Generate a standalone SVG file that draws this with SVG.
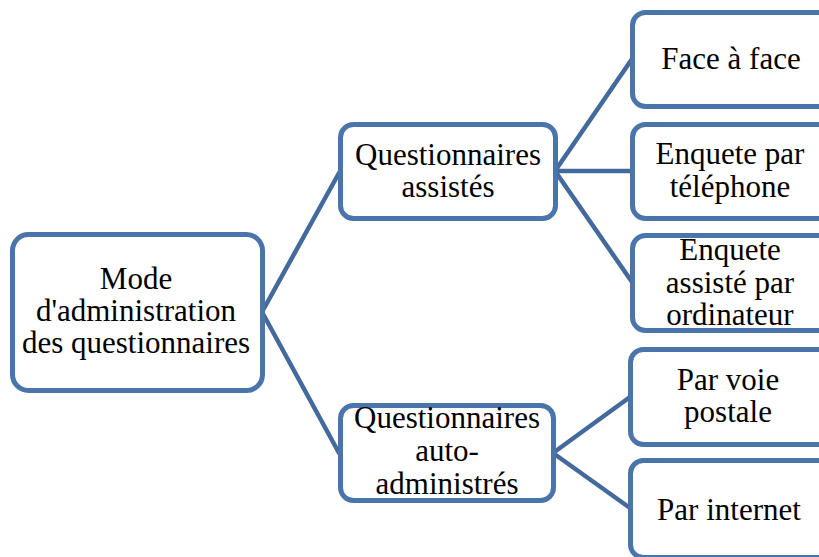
<svg xmlns="http://www.w3.org/2000/svg" width="819" height="557" viewBox="0 0 819 557">
  <style>
    .box { fill: #ffffff; stroke: #4a75ab; stroke-width: 5; }
    .link { fill: none; stroke: #44699d; stroke-width: 4.5; stroke-linecap: round; }
    .label { font-family: 'Liberation Serif', Tinos, 'Times New Roman', 'DejaVu Serif', serif; font-size: 31px; fill: #000000; text-anchor: middle; }
  </style>
  <rect width="819" height="557" fill="#ffffff"/>

  <!-- connectors -->
  <g id="connectors">
    <path class="link" d="M262,312 L339,173 M262,312 L339,453"/>
    <path class="link" d="M555,171 L632,59 M555,171 L632,171 M555,171 L632,282"/>
    <path class="link" d="M553,453 L630,397 M553,453 L630,508"/>
  </g>

  <!-- root -->
  <g id="node-root">
    <rect class="box" x="12.5" y="234.5" width="250" height="156" rx="16"/>
    <text class="label" x="136" y="288.5">Mode</text>
    <text class="label" x="136" y="320.5">d'administration</text>
    <text class="label" x="136" y="352.5">des questionnaires</text>
  </g>

  <!-- level 2 -->
  <g id="node-assistes">
    <rect class="box" x="340.5" y="124.5" width="215" height="94" rx="13"/>
    <text class="label" x="448" y="165">Questionnaires</text>
    <text class="label" x="448" y="197">assistés</text>
  </g>
  <g id="node-auto">
    <rect class="box" x="340.5" y="405.5" width="213" height="95" rx="13"/>
    <text class="label" x="447" y="428">Questionnaires</text>
    <text class="label" x="447" y="461">auto-</text>
    <text class="label" x="447" y="494">administrés</text>
  </g>

  <!-- level 3 -->
  <g id="node-face">
    <rect class="box" x="632.5" y="12.5" width="210" height="94" rx="13"/>
    <text class="label" x="731" y="69">Face à face</text>
  </g>
  <g id="node-telephone">
    <rect class="box" x="632.5" y="124.5" width="210" height="94" rx="13"/>
    <text class="label" x="730" y="164">Enquete par</text>
    <text class="label" x="730" y="197" font-size="30">téléphone</text>
  </g>
  <g id="node-ordinateur">
    <rect class="box" x="632.5" y="235.5" width="210" height="95" rx="13"/>
    <text class="label" x="730" y="260">Enquete</text>
    <text class="label" x="730" y="293">assisté par</text>
    <text class="label" x="730" y="325">ordinateur</text>
  </g>
  <g id="node-postale">
    <rect class="box" x="630.5" y="349.5" width="212" height="95" rx="13"/>
    <text class="label" x="728" y="390">Par voie</text>
    <text class="label" x="728" y="422">postale</text>
  </g>
  <g id="node-internet">
    <rect class="box" x="630.5" y="460.5" width="212" height="97" rx="13"/>
    <text class="label" x="729" y="520">Par internet</text>
  </g>
</svg>
